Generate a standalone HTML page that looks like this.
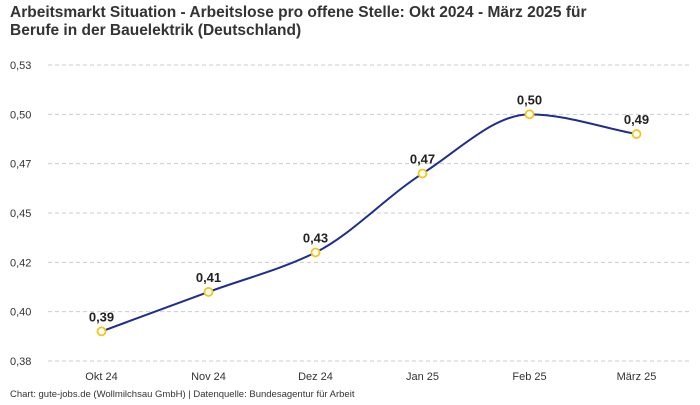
<!DOCTYPE html>
<html><head><meta charset="utf-8"><style>
body{margin:0;background:#fff;font-family:"Liberation Sans",sans-serif;}
svg text{font-family:"Liberation Sans",sans-serif;}
</style></head><body>
<svg id="c" width="700" height="400" xmlns="http://www.w3.org/2000/svg">
<text x="10" y="17" font-size="15.5" font-weight="bold" fill="#333">Arbeitsmarkt Situation - Arbeitslose pro offene Stelle: Okt 2024 - März 2025 für</text>
<text x="10" y="35" font-size="15.5" font-weight="bold" fill="#333">Berufe in der Bauelektrik (Deutschland)</text>
<g id="grid"></g>
<g id="yax"></g>
<g id="xax"></g>
<g id="series"></g>
<text x="10" y="397" font-size="9.5" fill="#333">Chart: gute-jobs.de (Wollmilchsau GmbH) | Datenquelle: Bundesagentur für Arbeit</text>
</svg>
<script>
const categories=["Okt 24","Nov 24","Dez 24","Jan 25","Feb 25","März 25"];
const values=[0.39,0.41,0.43,0.47,0.50,0.49];
const yTicks=[0.375,0.4,0.425,0.45,0.475,0.5,0.525];
const NS="http://www.w3.org/2000/svg";
const x0=48,x1=690,yMin=0.375,yMax=0.525,py0=361,py1=65;
const band=(x1-x0)/categories.length;
const X=i=>x0+band*(i+0.5);
const Y=v=>py0-(v-yMin)/(yMax-yMin)*(py0-py1);
function el(t,a,p){const e=document.createElementNS(NS,t);for(const k in a)e.setAttribute(k,a[k]);p.appendChild(e);return e;}
const fmt=v=>v.toFixed(2).replace('.',',');
const grid=document.getElementById('grid'),yax=document.getElementById('yax'),xax=document.getElementById('xax'),ser=document.getElementById('series');
yTicks.forEach(t=>{
 const l=el('line',{x1:x0,x2:x1,y1:Y(t),y2:Y(t),stroke:'#ccc','stroke-dasharray':'4,3','stroke-width':1},grid);
 
 
 const tx=el('text',{x:10,y:Y(t)+4,'font-size':11,fill:'#333'},yax);
 tx.textContent=fmt(t);
 
 
});
categories.forEach((c,i)=>{
 const tx=el('text',{x:X(i),y:380,'font-size':11,fill:'#333','text-anchor':'middle'},xax);
 tx.textContent=c;
 
 
});
// monotone cubic
const pts=values.map((v,i)=>[X(i),Y(v)]);
const n=pts.length,d=[],m=[];
for(let i=0;i<n-1;i++)d.push((pts[i+1][1]-pts[i][1])/(pts[i+1][0]-pts[i][0]));
m[0]=d[0];m[n-1]=d[n-2];
for(let i=1;i<n-1;i++)m[i]=d[i-1]*d[i]<=0?0:(3*2/((2*d[i]+d[i-1])/ (d[i-1]*d[i])+ (d[i]+2*d[i-1])/(d[i-1]*d[i])));
let p=`M${pts[0][0]},${pts[0][1]}`;
for(let i=0;i<n-1;i++){const h=(pts[i+1][0]-pts[i][0])/3;
 p+=` C${pts[i][0]+h},${pts[i][1]+m[i]*h} ${pts[i+1][0]-h},${pts[i+1][1]-m[i+1]*h} ${pts[i+1][0]},${pts[i+1][1]}`;}
const line=el('path',{d:p,fill:'none',stroke:'#1f2d8f','stroke-width':2},ser);


pts.forEach((q,i)=>{
 const c=el('circle',{cx:q[0],cy:q[1],r:4,fill:'#fff',stroke:'#f5c518','stroke-width':1.8},ser);
 
 
 const t=el('text',{x:q[0],y:q[1]-10,'font-size':13,'font-weight':'bold',fill:'#222','text-anchor':'middle'},ser);
 t.textContent=fmt(values[i]);
 
 
});
</script>
</body></html>
